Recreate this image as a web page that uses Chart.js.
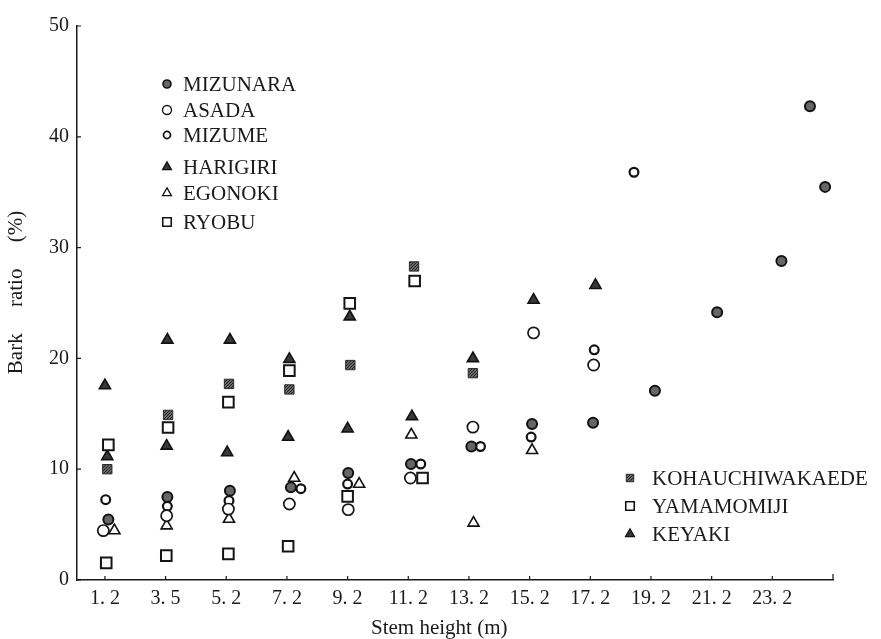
<!DOCTYPE html>
<html>
<head>
<meta charset="utf-8">
<script src="https://cdn.jsdelivr.net/npm/chart.js@4.4.1/dist/chart.umd.min.js"></script>
<style>
  html, body { margin: 0; padding: 0; background: #fff; }
  #wrap { width: 881px; height: 639px; position: relative; }
</style>
</head>
<body>
<div id="wrap"><canvas id="barkChart"></canvas></div>
<script>
// stem height sections shown on the x axis (m)
const heightTicks = [1.2, 3.5, 5.2, 7.2, 9.2, 11.2, 13.2, 15.2, 17.2, 19.2, 21.2, 23.2];
const ratioTicks = [0, 10, 20, 30, 40, 50];

// [stem height (m), bark ratio (%)]
const MIZUNARA = [[1.33, 5.45], [3.55, 7.5], [5.32, 8.06], [7.33, 8.36], [9.22, 9.66], [11.29, 10.47], [13.28, 12.05],
  [15.28, 14.07], [17.29, 14.2], [19.33, 17.07], [21.38, 24.16], [23.5, 28.8], [24.44, 42.75], [24.94, 35.48]];
const ASADA = [[1.14, 4.46], [3.53, 5.8], [5.27, 6.4], [7.28, 6.86], [9.22, 6.35], [11.27, 9.2], [13.33, 13.8],
  [15.33, 22.3], [17.31, 19.4]];
const MIZUME = [[1.23, 7.25], [3.55, 6.65], [5.29, 7.16], [7.66, 8.24], [9.2, 8.66], [11.61, 10.47], [13.58, 12.05],
  [15.25, 12.9], [17.33, 20.77], [18.64, 36.8]];
const HARIGIRI = [[1.2, 17.55], [3.55, 21.67], [5.32, 21.67], [7.28, 19.93], [9.27, 23.77], [11.32, 14.76],
  [13.33, 20.0], [15.33, 25.27], [17.37, 26.6]];
const EGONOKI = [[1.56, 4.46], [3.53, 4.9], [5.29, 5.5], [7.44, 9.2], [9.58, 8.66], [11.3, 13.1], [13.35, 5.15], [15.28, 11.7]];
const RYOBU = [[1.25, 1.55], [3.52, 2.2], [5.27, 2.36], [7.24, 3.05], [9.2, 7.55], [11.67, 9.2]];
const KOHAUCHIWAKAEDE = [[1.29, 10.0], [3.57, 14.9], [5.29, 17.7], [7.28, 17.2], [9.29, 19.4], [11.39, 28.3], [13.33, 18.67]];
const YAMAMOMIJI = [[1.33, 12.2], [3.57, 13.77], [5.27, 16.05], [7.28, 18.9], [9.27, 24.97], [11.41, 26.98]];
const KEYAKI = [[1.29, 11.15], [3.53, 12.1], [5.23, 11.5], [7.24, 12.9], [9.2, 13.65], [11.5, 50.8]];

const FONT = "'Liberation Serif', 'DejaVu Serif', serif";
const INK = '#1a1a1a';
Chart.defaults.font.family = FONT;
Chart.defaults.color = INK;

// the sections are drawn evenly spaced, so map a height onto its section index
function hToX(h) {
  const t = heightTicks;
  if (h <= t[0]) return (h - t[0]) / (t[1] - t[0]);
  for (let i = 0; i < t.length - 1; i++) {
    if (h <= t[i + 1]) return i + (h - t[i]) / (t[i + 1] - t[i]);
  }
  const n = t.length - 1;
  return n + (h - t[n]) / (t[n] - t[n - 1]);
}
const pts = arr => arr.map(p => ({ x: hToX(p[0]), y: p[1] }));
const fmtH = h => h.toFixed(1).replace('.', '. ');

// grainy grey fill for the shaded squares
function shadePattern() {
  const c = document.createElement('canvas');
  c.width = 3; c.height = 3;
  const g = c.getContext('2d');
  g.fillStyle = '#6a6a6a';
  g.fillRect(0, 0, 3, 3);
  g.fillStyle = '#222';
  g.fillRect(0, 0, 1, 1);
  g.fillRect(2, 1, 1, 1);
  g.fillRect(1, 2, 1, 1);
  return g.createPattern(c, 'repeat');
}

function series(label, data, style, radius, bg, border, bw) {
  return {
    label: label,
    data: pts(data),
    pointStyle: style,
    pointRadius: radius,
    pointHoverRadius: radius,
    backgroundColor: bg,
    borderColor: border,
    borderWidth: bw,
    pointBorderWidth: bw,
    showLine: false,
    clip: false
  };
}

const datasets = [
  series('MIZUNARA', MIZUNARA, 'circle', 5, '#666', '#111', 2),
  series('ASADA', ASADA, 'circle', 5.6, '#fff', '#151515', 1.7),
  series('MIZUME', MIZUME, 'circle', 4.4, '#fff', '#111', 2.2),
  series('HARIGIRI', HARIGIRI, 'triangle', 6.4, '#383838', '#111', 1.6),
  series('EGONOKI', EGONOKI, 'triangle', 6.4, '#fff', '#111', 1.6),
  series('RYOBU', RYOBU, 'rect', 7.5, '#fff', '#151515', 2),
  series('KOHAUCHIWAKAEDE', KOHAUCHIWAKAEDE, 'rect', 6.6, shadePattern(), '#2a2a2a', 1),
  series('YAMAMOMIJI', YAMAMOMIJI, 'rect', 7.5, '#fff', '#151515', 2),
  series('KEYAKI', KEYAKI, 'triangle', 6.4, '#383838', '#111', 1.6)
];

// small inward tick marks like the printed figure
const inwardTicks = {
  id: 'inwardTicks',
  afterDraw(chart) {
    const { ctx, scales: { x, y } } = chart;
    ctx.save();
    ctx.strokeStyle = INK;
    ctx.lineWidth = 1.2;
    ctx.beginPath();
    x.ticks.forEach(t => {
      const px = x.getPixelForValue(t.value);
      ctx.moveTo(px, x.top);
      ctx.lineTo(px, x.top - 4);
    });
    ctx.moveTo(x.right, x.top);
    ctx.lineTo(x.right, x.top - 6);
    y.ticks.forEach(t => {
      const py = y.getPixelForValue(t.value);
      ctx.moveTo(y.right, py);
      ctx.lineTo(y.right + 4, py);
    });
    ctx.stroke();
    ctx.restore();
  }
};

// two legend blocks, placed where the figure has them
const splitLegend = {
  id: 'splitLegend',
  afterDraw(chart) {
    const { ctx } = chart;
    const blocks = [
      { mx: 167, tx: 183, rows: [[0, 84], [1, 110], [2, 135], [3, 167], [4, 193], [5, 222]] },
      { mx: 630, tx: 652, rows: [[6, 478], [7, 506], [8, 534]] }
    ];
    ctx.save();
    ctx.font = '21px ' + FONT;
    ctx.textBaseline = 'middle';
    ctx.textAlign = 'left';
    blocks.forEach(b => {
      b.rows.forEach(([i, yy]) => {
        const ds = chart.data.datasets[i];
        ctx.fillStyle = ds.backgroundColor;
        ctx.strokeStyle = ds.borderColor;
        ctx.lineWidth = Math.max(1, ds.borderWidth * 0.8);
        Chart.helpers.drawPoint(ctx, {
          pointStyle: ds.pointStyle,
          radius: ds.pointRadius * 0.8,
          borderWidth: ds.borderWidth,
          rotation: 0
        }, b.mx, yy);
        ctx.fillStyle = INK;
        ctx.fillText(ds.label, b.tx, yy + 1);
      });
    });
    ctx.restore();
  }
};

new Chart(document.getElementById('barkChart'), {
  type: 'scatter',
  data: { datasets: datasets },
  options: {
    responsive: true,
    maintainAspectRatio: false,
    animation: false,
    layout: { padding: { left: 0, right: 48, top: 26, bottom: 0 } },
    plugins: {
      legend: { display: false },
      tooltip: { enabled: false }
    },
    scales: {
      x: {
        type: 'linear',
        min: -0.46,
        max: 12.0,
        afterBuildTicks: s => { s.ticks = heightTicks.map((h, i) => ({ value: i })); },
        ticks: {
          autoSkip: false,
          maxRotation: 0,
          padding: 9,
          font: { size: 20, lineHeight: 1 },
          callback: v => fmtH(heightTicks[v])
        },
        grid: { display: false, drawTicks: false },
        border: { color: INK, width: 1.5 },
        title: {
          display: true,
          text: 'Stem height (m)      ',
          font: { size: 21, lineHeight: 1 },
          padding: { top: 0, bottom: 0 }
        }
      },
      y: {
        min: 0,
        max: 50,
        afterBuildTicks: s => { s.ticks = ratioTicks.map(v => ({ value: v })); },
        ticks: {
          padding: 8,
          font: { size: 20, lineHeight: 1 }
        },
        grid: { display: false, drawTicks: false },
        border: { color: INK, width: 1.5 },
        title: {
          display: true,
          text: '    Bark     ratio     (%)',
          font: { size: 21, lineHeight: 1 },
          padding: { top: 6, bottom: 14 }
        }
      }
    }
  },
  plugins: [inwardTicks, splitLegend]
});
</script>
</body>
</html>
